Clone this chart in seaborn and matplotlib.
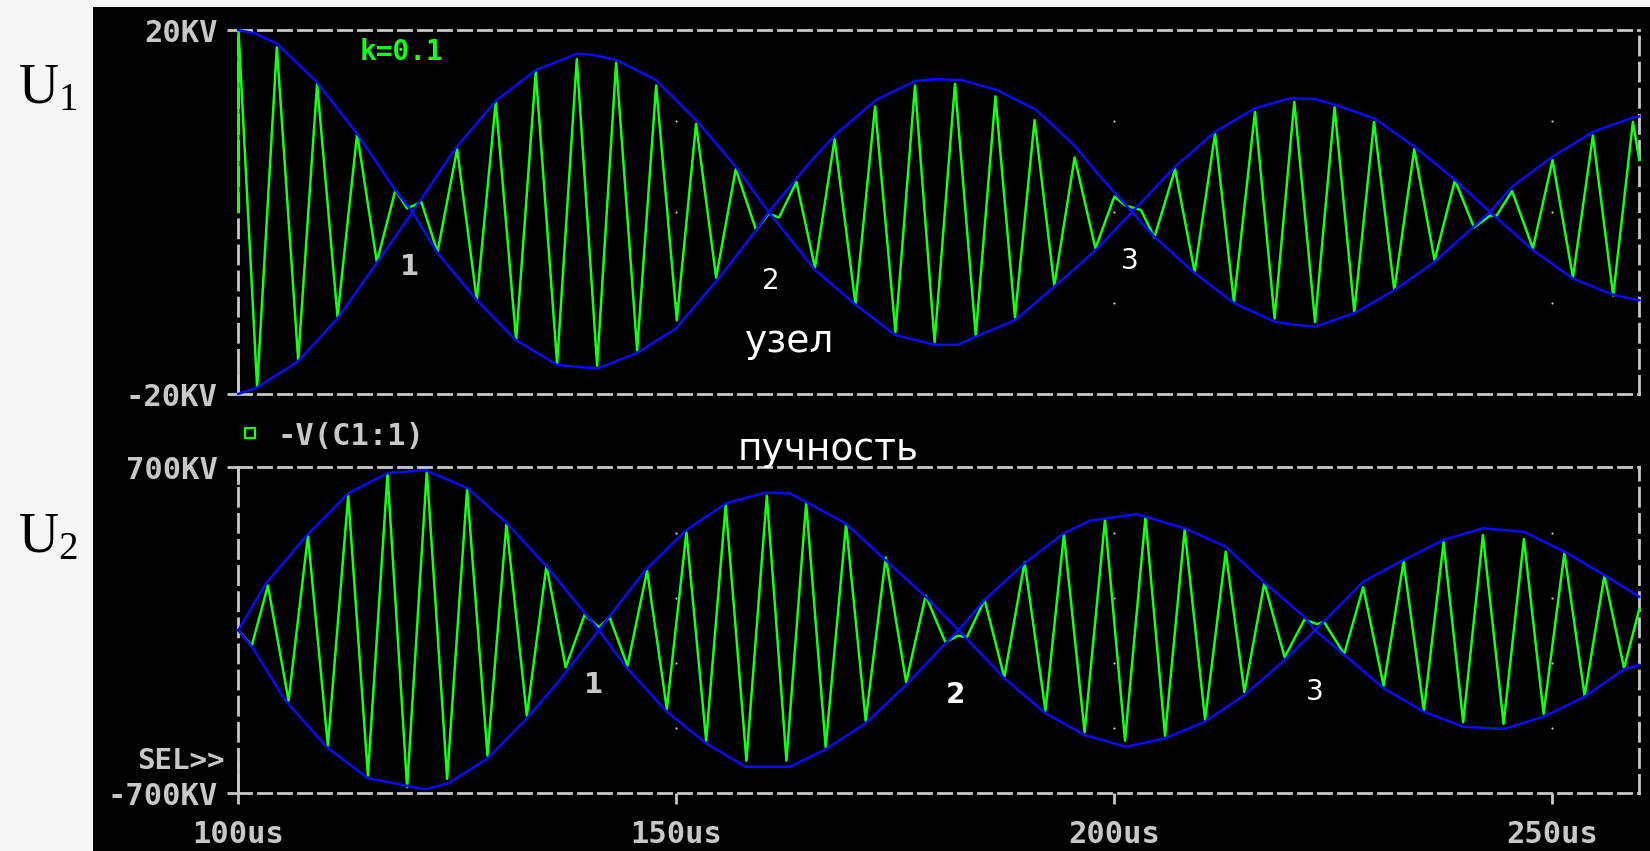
import matplotlib
matplotlib.use("Agg")
import matplotlib.pyplot as plt
import seaborn as sns
import pandas as pd
from matplotlib.lines import Line2D

# ---------------- data ----------------
x_ticks = [100, 150, 200, 250]
x_tick_labels = ["100us", "150us", "200us", "250us"]
x_range = [100, 260]

u1_range = [-20, 20]
u1_tick_labels = ["-20KV", "20KV"]
u2_range = [-700, 700]
u2_tick_labels = ["-700KV", "700KV"]

grid_x = [150, 200, 250]
u1_grid_y = [-10, 0, 10]
u2_grid_y = [-420, -140, 140, 420]

# U1 (upper panel) waveform extrema, time in us, value in kV
u1_t = [100.0, 100.02, 102.15, 104.4, 106.84, 109.0, 111.33, 113.57, 115.82, 117.94,
        119.27, 120.91, 122.75, 124.99, 127.24, 129.4, 131.73, 133.97, 136.41, 138.66,
        140.98, 143.15, 145.55, 147.72, 150.08, 152.28, 154.57, 156.81, 159.14, 160.56,
        161.75, 163.74, 165.86, 168.1, 170.48, 172.72, 175.05, 177.28, 179.52, 181.85,
        184.22, 186.47, 188.7, 190.94, 193.19, 195.51, 197.89, 200.05, 201.3, 202.1,
        203.1, 204.62, 206.98, 209.22, 211.55, 213.7, 216.11, 218.35, 220.6, 222.97,
        225.2, 227.45, 229.7, 232.02, 234.3, 236.62, 238.95, 241.12, 242.95, 243.7,
        245.47, 247.85, 250.09, 252.42, 254.7, 257.02, 259.27, 260.0]
u1_v = [0.0, 20.0, -19.25, 18.1, -16.3, 14.1, -11.5, 8.6, -5.5, 2.4,
        0.4, 1.1, -4.4, 6.9, -9.7, 12.1, -14.1, 15.4, -16.7, 16.8,
        -16.9, 16.4, -15.2, 13.9, -11.9, 9.7, -7.2, 4.7, -2.0, -0.2,
        -0.6, 3.3, -6.1, 8.0, -10.1, 11.6, -13.2, 13.9, -14.3, 14.1,
        -13.6, 12.7, -11.6, 10.1, -8.1, 6.0, -4.0, 1.7, 0.7, 0.5,
        0.2, -2.8, 4.7, -6.6, 8.6, -9.9, 11.0, -11.7, 12.1, -12.1,
        11.5, -11.0, 9.9, -8.6, 6.9, -5.3, 3.5, -1.7, -0.4, -0.4,
        2.3, -4.0, 5.7, -7.2, 8.4, -9.2, 9.9, 5.7]

# U1 envelopes (blue)
u1_envA_t = [100.0, 102.0, 104.4, 108.95, 113.57, 117.94, 119.9, 122.75, 127.24, 131.73,
             136.41, 140.98, 145.55, 149.96, 154.86, 159.14, 160.56, 163.0, 165.4, 168.3,
             172.8, 177.3, 179.7, 182.6, 186.65, 191.15, 195.6, 198.1, 202.08, 204.6,
             209.2, 213.7, 218.35, 220.7, 223.0, 227.5, 232.0, 236.6, 241.1, 242.95,
             245.5, 250.1, 254.7, 259.3, 260.0]
u1_envA_v = [20.0, 19.6, 18.5, 14.3, 8.6, 2.4, 0.0, -4.5, -9.7, -14.1,
             -16.8, -17.2, -15.5, -12.8, -7.3, -2.0, 0.0, 2.8, 5.6, 8.6,
             12.3, 14.4, 14.6, 14.5, 13.4, 11.2, 7.2, 4.25, 0.0, -2.7,
             -6.7, -10.0, -12.05, -12.4, -12.6, -11.1, -8.6, -5.5, -1.6, 0.0,
             2.8, 6.1, 8.8, 10.4, 10.5]
u1_envB_t = [100.0, 102.14, 106.84, 111.33, 115.82, 119.9, 124.8, 129.5, 134.0, 138.7,
             140.6, 143.2, 147.7, 152.3, 156.8, 160.56, 165.9, 170.5, 175.0, 179.5,
             182.2, 184.2, 188.7, 193.2, 197.9, 202.08, 207.0, 211.55, 216.1, 220.1,
             223.0, 225.2, 229.7, 234.3, 239.0, 242.95, 247.85, 252.4, 257.0, 260.0]
u1_envB_v = [-20.0, -19.3, -16.4, -11.7, -5.6, 0.0, 7.0, 12.3, 15.6, 17.4,
             17.25, 16.7, 14.5, 10.1, 5.0, 0.0, -6.4, -10.2, -13.5, -14.6,
             -14.6, -13.7, -11.9, -8.2, -4.2, 0.0, 5.0, 8.8, 11.4, 12.5,
             12.4, 11.8, 10.3, 7.2, 3.5, 0.0, -4.2, -7.3, -9.1, -9.7]

# U2 (lower panel) waveform extrema, kV
u2_t = [100.0, 101.54, 103.38, 105.74, 107.95, 110.23, 112.55, 114.8, 117.04, 119.28,
        121.53, 123.85, 126.13, 128.46, 130.62, 132.95, 135.19, 137.39, 139.55, 141.18,
        142.4, 144.45, 146.69, 148.94, 151.18, 153.43, 155.66, 158.03, 160.36, 162.6,
        164.85, 167.08, 169.41, 171.65, 173.94, 176.27, 178.5, 180.76, 182.18, 183.2,
        185.23, 187.48, 189.8, 192.18, 194.29, 196.65, 198.98, 201.27, 203.6, 205.84,
        208.08, 210.41, 212.77, 214.9, 217.18, 219.5, 221.75, 223.18, 223.99, 226.3,
        228.47, 230.8, 233.08, 235.4, 237.65, 239.89, 242.14, 244.5, 246.82, 249.07,
        251.44, 253.76, 256.01, 258.26, 260.0]
u2_v = [0, -66, 192, -302, 406, -495, 578, -624, 671, -674,
        685, -638, 607, -538, 456, -367, 277, -159, 66, 13,
        56, -152, 256, -338, 421, -474, 538, -560, 578, -560,
        547, -502, 456, -388, 313, -223, 149, -52, -23, -30,
        131, -202, 292, -345, 413, -438, 475, -474, 485, -453,
        432, -384, 338, -266, 203, -116, 46, 27, 36, -102,
        185, -238, 295, -345, 378, -395, 409, -402, 392, -359,
        332, -281, 234, -163, 91]

# U2 envelopes (blue)
u2_envC_t = [100.0, 103.17, 107.86, 112.55, 117.04, 121.32, 126.22, 130.7, 135.4, 141.18,
             144.25, 148.94, 153.43, 157.9, 163.0, 167.08, 171.65, 176.27, 180.76, 182.26,
             185.23, 189.8, 194.29, 197.27, 202.57, 208.08, 212.77, 217.26, 221.75, 222.97,
             226.3, 230.8, 235.4, 239.89, 244.5, 249.07, 253.76, 258.26, 260.0]
u2_envC_v = [0, 202, 409, 588, 675, 688, 610, 459, 266, 0,
             -156, -350, -485, -586, -586, -511, -399, -235, -56, 0,
             130, 288, 417, 471, 499, 438, 359, 202, 58, 0,
             -106, -249, -350, -414, -424, -371, -285, -167, -149]
u2_envD_t = [100.0, 101.54, 105.4, 110.1, 114.8, 121.3, 124.0, 128.46, 132.95, 136.4,
             141.18, 142.2, 146.5, 151.18, 155.66, 160.15, 163.0, 169.37, 173.9, 178.9,
             182.26, 187.48, 192.18, 196.65, 201.35, 205.84, 210.41, 214.9, 219.5, 222.97,
             228.47, 233.08, 237.65, 242.14, 246.82, 251.44, 256.01, 260.0]
u2_envD_v = [0, -70, -302, -502, -635, -683, -657, -550, -378, -228,
             0, 52, 259, 431, 545, 591, 588, 459, 302, 130,
             0, -206, -356, -450, -500, -464, -392, -278, -128, 0,
             209, 302, 388, 438, 423, 338, 237, 144]

# ---------------- style ----------------
W, H = 1650, 851
GREEN = "#16ff16"
BLUE = "#0a0aff"
GREY = "#c8c8c8"
MONO = "DejaVu Sans Mono"

plt.rcParams["lines.scale_dashes"] = False
plt.rcParams["font.family"] = ["DejaVu Sans", "Noto Sans"]
plt.rcParams["mathtext.fontset"] = "custom"
plt.rcParams["mathtext.rm"] = "Liberation Serif"
plt.rcParams["mathtext.it"] = "Liberation Serif"


def fx(px):
    return px / W


def fy(py):
    return 1 - py / H


fig = plt.figure(figsize=(W / 100, H / 100), dpi=100, facecolor="#f6f6f6")

bg = fig.add_axes([fx(93), 0, 1 - fx(93), 1 - 7 / H])
bg.set_facecolor("black")
bg.set_xticks([])
bg.set_yticks([])
for s in bg.spines.values():
    s.set_visible(False)
bg.set_zorder(-10)

ax1 = fig.add_axes([fx(238.3), fy(394), (1639.3 - 238.3) / W, 364 / H])
ax2 = fig.add_axes([fx(238.3), fy(793.3), (1639.3 - 238.3) / W, 326 / H])

df1 = pd.DataFrame({"t": u1_t, "v": u1_v})
dfA = pd.DataFrame({"t": u1_envA_t, "v": u1_envA_v})
dfB = pd.DataFrame({"t": u1_envB_t, "v": u1_envB_v})
df2 = pd.DataFrame({"t": u2_t, "v": u2_v})
dfC = pd.DataFrame({"t": u2_envC_t, "v": u2_envC_v})
dfD = pd.DataFrame({"t": u2_envD_t, "v": u2_envD_v})

for ax, dsig, envs, yr, ylabs, gy in (
        (ax1, df1, (dfA, dfB), u1_range, u1_tick_labels, u1_grid_y),
        (ax2, df2, (dfC, dfD), u2_range, u2_tick_labels, u2_grid_y)):
    ax.set_facecolor("none")
    sns.lineplot(data=dsig, x="t", y="v", ax=ax, color=GREEN, lw=1.8,
                 estimator=None, sort=False, zorder=3, clip_on=False)
    for de in envs:
        sns.lineplot(data=de, x="t", y="v", ax=ax, color=BLUE, lw=1.8,
                     estimator=None, sort=False, zorder=4, clip_on=False)
    gx_all = [g for g in grid_x for _ in gy]
    gy_all = [y for _ in grid_x for y in gy]
    ax.scatter(gx_all, gy_all, s=2.5, color=GREY, zorder=2, linewidths=0)
    ax.set_xlim(x_range)
    ax.set_ylim(yr)
    ax.set_xlabel("")
    ax.set_ylabel("")
    ax.set_yticks(yr, labels=ylabs)
    ax.tick_params(axis="y", direction="out", length=8, width=2, color=GREY,
                   pad=7, labelsize=22, labelcolor=GREY)
    for lbl in ax.get_yticklabels():
        lbl.set_fontfamily(MONO)
        lbl.set_fontweight("bold")
    for side in ("top", "bottom"):
        ax.spines[side].set_color(GREY)
        ax.spines[side].set_linewidth(2)
        ax.spines[side].set_linestyle((0, (9.4, 5.0)))
    for side in ("left", "right"):
        ax.spines[side].set_color(GREY)
        ax.spines[side].set_linewidth(2)
        ax.spines[side].set_linestyle((0, (13.0, 5.8)))
    ax.grid(False)

ax1.set_xticks([])
ax2.set_xticks(x_ticks, labels=x_tick_labels)
ax2.tick_params(axis="x", direction="out", length=8, width=2, color=GREY,
                pad=11, labelsize=22, labelcolor=GREY)
for lbl in ax2.get_xticklabels():
    lbl.set_fontfamily(MONO)
    lbl.set_fontweight("bold")

# solid corner pieces of the axes
ax1.axvline(x_range[0], ymin=0, ymax=24 / 364, color=GREY, lw=2, clip_on=False, zorder=1)
ax2.axvline(x_range[0], ymin=1 - 16 / 326, ymax=1, color=GREY, lw=2, clip_on=False, zorder=1)
ax2.axvline(x_range[0], ymin=0, ymax=30 / 326, color=GREY, lw=2, clip_on=False, zorder=1)

# annotations
ax1.text(118.6, 16.7, "k=0.1", color=GREEN, family=MONO, fontweight="bold",
         fontsize=20, ha="center", va="baseline", zorder=6)
ax1.text(119.6, -6.9, "1", color=GREY, fontweight="bold", fontsize=20,
         ha="center", va="baseline", zorder=6)
ax1.text(160.8, -8.5, "2", color="white", fontsize=20, ha="center",
         va="baseline", zorder=6)
ax1.text(201.8, -6.3, "3", color="white", fontsize=20, ha="center",
         va="baseline", zorder=6)
ax1.text(162.9, -15.4, "узел", color="white", fontsize=27, ha="center",
         va="baseline", zorder=6)

ax2.text(140.6, -269, "1", color=GREY, fontweight="bold", fontsize=20,
         ha="center", va="baseline", zorder=6)
ax2.text(181.85, -312, "2", color="white", fontweight="bold", fontsize=20,
         ha="center", va="baseline", zorder=6)
ax2.text(222.97, -299, "3", color="white", fontsize=20, ha="center",
         va="baseline", zorder=6)
ax2.text(167.35, 731, "пучность", color="white", fontsize=27, ha="center",
         va="baseline", zorder=6, clip_on=False)

# legend entry and SEL marker
fig.add_artist(Line2D([fx(250)], [fy(433)], marker="s", mfc="none", mec=GREEN,
                      ms=7, mew=1.6, transform=fig.transFigure))
fig.text(fx(277), fy(433), "-V(C1:1)", color=GREY, family=MONO, fontweight="bold",
         fontsize=22, ha="left", va="center_baseline")
fig.text(fx(225), fy(758), "SEL>>", color=GREY, family=MONO, fontweight="bold",
         fontsize=21, ha="right", va="center_baseline")

# side labels U1, U2
fig.text(fx(18), fy(103), r"U$_{1}$", family="Liberation Serif", fontsize=40,
         color="black", ha="left", va="baseline")
fig.text(fx(18), fy(552), r"U$_{2}$", family="Liberation Serif", fontsize=40,
         color="black", ha="left", va="baseline")

fig.savefig("out.png", dpi=100, facecolor=fig.get_facecolor())
